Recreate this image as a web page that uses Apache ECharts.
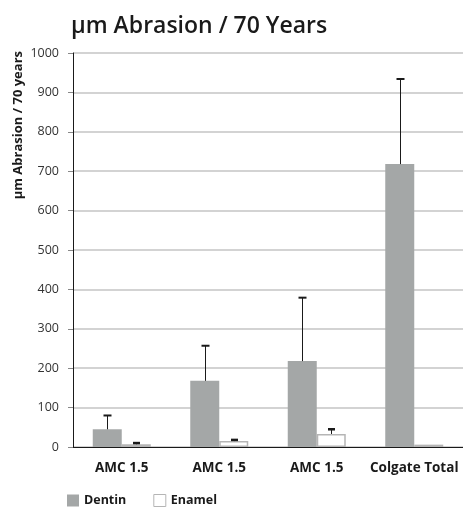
<!DOCTYPE html>
<html>
<head>
<meta charset="utf-8">
<script src="https://cdn.jsdelivr.net/npm/echarts@6/dist/echarts.min.js"></script>
<style>
html,body{margin:0;padding:0;background:#fff;}
#chart{width:463px;height:509px;}
</style>
</head>
<body>
<div id="chart"></div>
<script>
var categories = ['AMC 1.5', 'AMC 1.5', 'AMC 1.5', 'Colgate Total'];
var dentin = [45, 168, 218, 718];
var enamel = [7, 15, 33, 6];
var dentinErrTop = [80, 257, 379, 934];
var enamelErrTop = [10, 18, 45, null];
var yTicks = [0, 100, 200, 300, 400, 500, 600, 700, 800, 900, 1000];

var FONT = '"Open Sans", "Noto Sans", sans-serif';
var BAR_W = 29;

function errSeries(name, tops, bases, sign, capW, capT) {
  var data = tops.map(function (t, i) { return [i, bases[i], t]; });
  return {
    type: 'custom',
    name: name + ' err',
    data: data,
    z: 10,
    silent: true,
    renderItem: function (params, api) {
      var top = api.value(2);
      if (top == null || isNaN(top)) return null;
      var idx = api.value(0);
      var b = api.coord([idx, api.value(1)]);
      var t = api.coord([idx, top]);
      var x = Math.round(b[0] + sign * BAR_W / 2) + 0.5;
      return {
        type: 'group',
        children: [
          { type: 'line', shape: { x1: x, y1: b[1], x2: x, y2: t[1] }, style: { stroke: '#1a1a1a', lineWidth: 1 } },
          { type: 'line', shape: { x1: x - capW / 2, y1: t[1], x2: x + capW / 2, y2: t[1] }, style: { stroke: '#1a1a1a', lineWidth: capT } }
        ]
      };
    }
  };
}

var chart = echarts.init(document.getElementById('chart'));
chart.setOption({
  animation: false,
  backgroundColor: '#fff',
  textStyle: { fontFamily: FONT },
  title: {
    text: 'µm Abrasion / 70 Years',
    left: 66, top: 10,
    textStyle: { fontFamily: FONT, fontSize: 23, fontWeight: 600, color: '#1a1a1a' }
  },
  graphic: [{
    type: 'text',
    x: 18, y: 51,
    rotation: Math.PI / 2,
    style: {
      text: 'µm Abrasion / 70 years',
      fontFamily: FONT, fontSize: 13, fontWeight: 'bold', fill: '#1a1a1a',
      align: 'right', verticalAlign: 'middle'
    }
  }],
  legend: {
    left: 62, top: 489,
    itemWidth: 12, itemHeight: 12, itemGap: 27,
    textStyle: { fontFamily: FONT, fontSize: 12.5, fontWeight: 'bold', color: '#1a1a1a' },
    data: [
      { name: 'Dentin', icon: 'rect' },
      { name: 'Enamel', icon: 'rect', itemStyle: { color: '#fff', borderColor: '#b5b5b5', borderWidth: 1 } }
    ]
  },
  grid: { left: 73, right: 0, top: 53, bottom: 62, containLabel: false },
  xAxis: {
    type: 'category',
    data: categories,
    axisLine: { lineStyle: { color: '#1a1a1a', width: 1 } },
    axisTick: { show: false },
    axisLabel: { fontFamily: FONT, fontSize: 13.5, fontWeight: 'bold', color: '#1a1a1a', margin: 14, interval: 0 }
  },
  yAxis: {
    type: 'value',
    min: 0, max: 1000, interval: 100,
    axisLine: { show: true, lineStyle: { color: '#1a1a1a', width: 1 } },
    axisTick: { show: true, length: 5, lineStyle: { color: '#888' } },
    axisLabel: { fontFamily: FONT, fontSize: 12.5, color: '#333', margin: 14,
      formatter: function (v) { return yTicks.indexOf(v) >= 0 ? String(v) : ''; } },
    splitLine: { lineStyle: { color: '#c4c4c4', width: 1.5 } }
  },
  series: [
    { name: 'Dentin', type: 'bar', data: dentin, barWidth: BAR_W, barGap: '0%',
      itemStyle: { color: '#a4a7a7' } },
    { name: 'Enamel', type: 'bar', data: enamel, barWidth: BAR_W, barGap: '0%',
      itemStyle: { color: '#fff', borderColor: '#b5b5b5', borderWidth: 1.5 } },
    errSeries('Dentin', dentinErrTop, dentin, -1, 8, 2),
    errSeries('Enamel', enamelErrTop, enamel, 1, 7, 2.5)
  ]
});
</script>
</body>
</html>
